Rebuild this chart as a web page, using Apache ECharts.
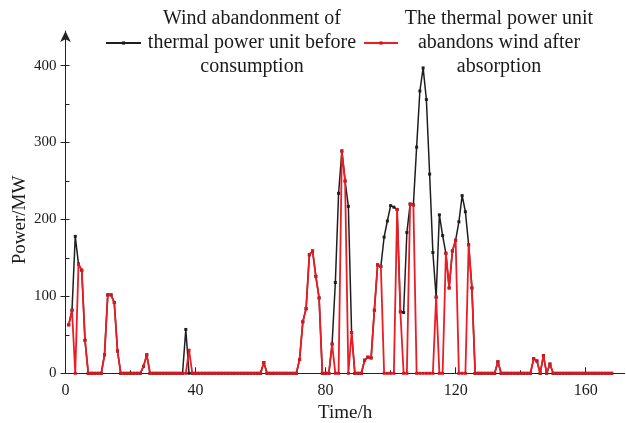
<!DOCTYPE html>
<html><head><meta charset="utf-8">
<script src="https://cdn.jsdelivr.net/npm/echarts@6/dist/echarts.min.js"></script>
<style>html,body{margin:0;padding:0;background:#fff}#c{width:626px;height:423px}</style>
</head><body><div id="c"></div>
<script>
// time index (hours 1..168)
const hours = Array.from({length: 168}, (_, i) => i + 1);

// Wind abandonment before consumption (black), t = 1..168
const beforeValues = [
  63, 82, 178, 142, 134, 43, 0, 0, 0, 0,
  0, 24, 102, 102, 92, 29, 0, 0, 0, 0,
  0, 0, 0, 9, 24, 0, 0, 0, 0, 0,
  0, 0, 0, 0, 0, 0, 57, 0, 0, 0,
  0, 0, 0, 0, 0, 0, 0, 0, 0, 0,
  0, 0, 0, 0, 0, 0, 0, 0, 0, 0,
  14, 0, 0, 0, 0, 0, 0, 0, 0, 0,
  0, 18, 67, 84, 154, 159, 126, 98, 0, 0,
  0, 38, 118, 234, 289, 250, 217, 53, 0, 0,
  0, 17, 21, 20, 82, 141, 139, 177, 198, 218,
  216, 213, 80, 79, 183, 220, 219, 294, 367, 397,
  356, 259, 157, 99, 206, 179, 156, 111, 159, 173,
  197, 231, 210, 167, 111, 0, 0, 0, 0, 0,
  0, 0, 15, 0, 0, 0, 0, 0, 0, 0,
  0, 0, 0, 19, 16, 0, 23, 0, 12, 0,
  0, 0, 0, 0, 0, 0, 0, 0, 0, 0,
  0, 0, 0, 0, 0, 0, 0, 0
];

// Wind abandonment after absorption (red), t = 1..168
const afterValues = [
  63, 82, 0, 142, 134, 43, 0, 0, 0, 0,
  0, 24, 102, 102, 92, 29, 0, 0, 0, 0,
  0, 0, 0, 9, 24, 0, 0, 0, 0, 0,
  0, 0, 0, 0, 0, 0, 0, 30, 0, 0,
  0, 0, 0, 0, 0, 0, 0, 0, 0, 0,
  0, 0, 0, 0, 0, 0, 0, 0, 0, 0,
  14, 0, 0, 0, 0, 0, 0, 0, 0, 0,
  0, 18, 67, 84, 154, 159, 126, 98, 0, 0,
  0, 38, 0, 0, 289, 250, 0, 53, 0, 0,
  0, 17, 21, 20, 82, 141, 139, 0, 0, 0,
  0, 213, 80, 0, 0, 220, 219, 0, 0, 0,
  0, 0, 0, 99, 0, 0, 156, 111, 159, 173,
  0, 0, 0, 167, 111, 0, 0, 0, 0, 0,
  0, 0, 15, 0, 0, 0, 0, 0, 0, 0,
  0, 0, 0, 19, 16, 0, 23, 0, 12, 0,
  0, 0, 0, 0, 0, 0, 0, 0, 0, 0,
  0, 0, 0, 0, 0, 0, 0, 0
];

const xLabelTicks = [0, 40, 80, 120, 160];
const xMinorTicks = [20, 60, 100, 140];
const yLabelTicks = [0, 100, 200, 300, 400];
const yInnerTicks = [0, 50, 100, 150, 200, 250, 300, 350, 400];

const nameBefore = 'Wind abandonment of\nthermal power unit before\nconsumption';
const nameAfter = 'The thermal power unit\nabandons wind after\nabsorption';

const FONT = 'Liberation Serif';
const TXT = '#1a1a1a';

const chart = echarts.init(document.getElementById('c'), null, {renderer: 'canvas'});
const pairs = (vals) => hours.map((h, i) => [h, vals[i]]);

chart.setOption({
  animation: false,
  backgroundColor: '#fff',
  grid: {left: 65.5, right: 1.3, top: 31, bottom: 49.7, containLabel: false, outerBoundsMode: 'none'},
  legend: [
    {
      data: [nameBefore], left: 105, top: 9, padding: 0,
      itemWidth: 35, itemHeight: 4, itemGap: 0,
      formatter: n => '{t|' + n + '}',
      textStyle: {rich: {t: {width: 212, align: 'center', fontSize: 20, lineHeight: 24, fontFamily: FONT, color: TXT}}}
    },
    {
      data: [nameAfter], left: 363, top: 9, padding: 0,
      itemWidth: 34, itemHeight: 4, itemGap: 0,
      formatter: n => '{t|' + n + '}',
      textStyle: {rich: {t: {width: 192, align: 'center', fontSize: 20, lineHeight: 24, fontFamily: FONT, color: TXT}}}
    }
  ],
  xAxis: [
    {
      type: 'value', min: 0, max: 172, position: 'bottom',
      name: 'Time/h', nameLocation: 'middle', nameGap: 28,
      nameTextStyle: {fontFamily: FONT, fontSize: 19, color: TXT},
      axisLine: {show: true, onZero: false, lineStyle: {color: '#222', width: 1}},
      axisTick: {show: true, inside: true, length: 6, customValues: xLabelTicks, lineStyle: {color: '#222'}},
      axisLabel: {customValues: xLabelTicks, margin: 9, fontFamily: FONT, fontSize: 16, color: TXT},
      splitLine: {show: false}
    },
    {
      type: 'value', min: 0, max: 172, position: 'bottom',
      axisLine: {show: false},
      axisTick: {show: true, inside: true, length: 3, customValues: xMinorTicks, lineStyle: {color: '#222'}},
      axisLabel: {show: false},
      splitLine: {show: false}
    }
  ],
  yAxis: [
    {
      type: 'value', min: 0, max: 445, position: 'left',
      axisLine: {show: true, onZero: false, symbol: ['none', 'arrow'], symbolSize: [8, 11], lineStyle: {color: '#222', width: 1}},
      axisTick: {show: true, inside: false, length: 5, customValues: yLabelTicks, lineStyle: {color: '#222'}},
      axisLabel: {customValues: yLabelTicks, margin: 9, fontFamily: FONT, fontSize: 15, color: TXT},
      splitLine: {show: false}
    },
    {
      type: 'value', min: 0, max: 445, position: 'left',
      axisLine: {show: false},
      axisTick: {show: true, inside: true, length: 4, customValues: yInnerTicks, lineStyle: {color: '#222'}},
      axisLabel: {show: false},
      splitLine: {show: false}
    }
  ],
  graphic: [
    {
      type: 'text', x: 20, y: 220, rotation: Math.PI / 2,
      style: {text: 'Power/MW', font: '19px "Liberation Serif"', fill: TXT, textAlign: 'center', textVerticalAlign: 'middle'}
    }
  ],
  series: [
    {
      name: nameBefore, type: 'line', xAxisIndex: 0, yAxisIndex: 0,
      data: pairs(beforeValues),
      symbol: 'rect', symbolSize: 3, showAllSymbol: true,
      lineStyle: {color: '#1e1e1e', width: 1.5},
      itemStyle: {color: '#1e1e1e'},
      z: 2
    },
    {
      name: nameAfter, type: 'line', xAxisIndex: 0, yAxisIndex: 0,
      data: pairs(afterValues),
      symbol: 'rect', symbolSize: 3, showAllSymbol: true,
      lineStyle: {color: '#ec1c24', width: 1.8},
      itemStyle: {color: '#d8151d'},
      z: 3
    }
  ]
});
</script>
</body></html>
